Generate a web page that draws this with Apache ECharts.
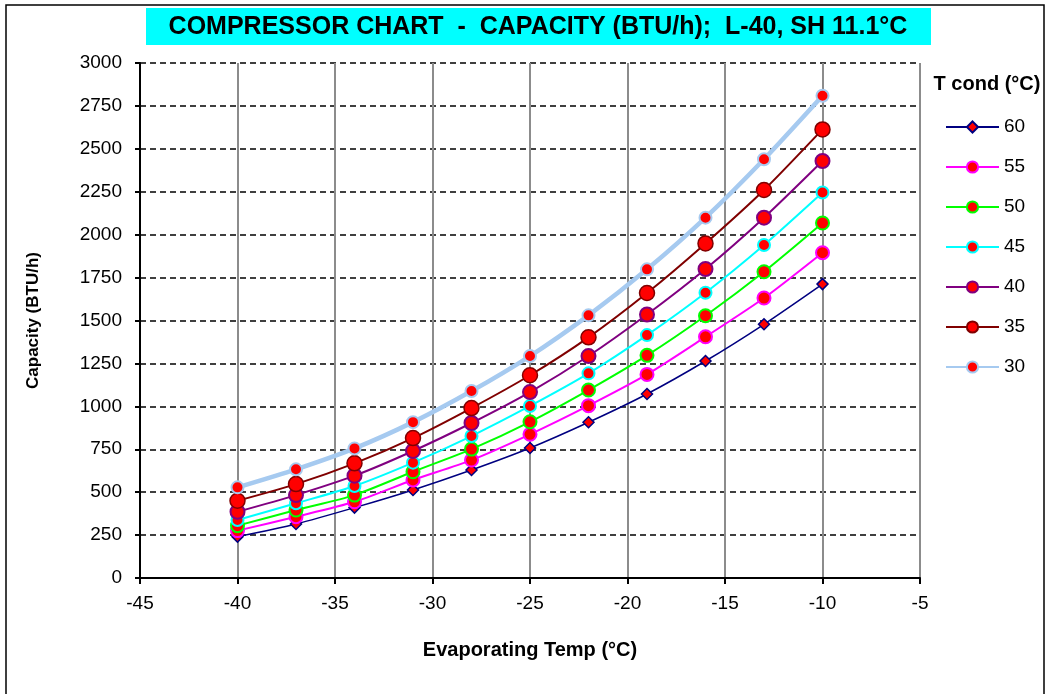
<!DOCTYPE html>
<html>
<head>
<meta charset="utf-8">
<script src="https://cdn.jsdelivr.net/npm/echarts@6/dist/echarts.min.js"></script>
<style>
  html, body { margin: 0; padding: 0; background: #fff; }
  #chart { width: 1049px; height: 694px; }
</style>
</head>
<body>
<div id="chart"></div>
<script>
// Evaporating temperatures (°C)
const evapTemps = [-40, -37, -34, -31, -28, -25, -22, -19, -16, -13, -10];

// Capacity (BTU/h) per condensing temperature
const cap60 = [241, 315, 410, 513, 629, 757, 907, 1072, 1264, 1478, 1712];
const cap55 = [276, 357, 444, 571, 687, 837, 1004, 1186, 1405, 1631, 1895];
const cap50 = [305, 396, 483, 619, 751, 910, 1095, 1297, 1528, 1784, 2068];
const cap45 = [338, 435, 536, 672, 827, 1002, 1192, 1415, 1662, 1940, 2246];
const cap40 = [386, 483, 596, 740, 903, 1083, 1293, 1535, 1800, 2099, 2429];
const cap35 = [450, 547, 668, 815, 990, 1181, 1402, 1660, 1949, 2260, 2613];
const cap30 = [528, 633, 755, 908, 1089, 1293, 1530, 1798, 2099, 2439, 2809];

const condNames = ['60', '55', '50', '45', '40', '35', '30'];
const titleText = 'COMPRESSOR CHART  -  CAPACITY (BTU/h);  L-40, SH 11.1°C';

const FONT = '"Liberation Sans", Arial, sans-serif';

// visual style per condensing-temperature curve
const styles = [
  { data: cap60, color: '#000080', width: 1.5, symbol: 'diamond', size: 11, bw: 1.5 },
  { data: cap55, color: '#FF00FF', width: 2, symbol: 'circle', size: 13, bw: 2 },
  { data: cap50, color: '#00FF00', width: 2, symbol: 'circle', size: 13, bw: 2 },
  { data: cap45, color: '#00FFFF', width: 2, symbol: 'circle', size: 12, bw: 2 },
  { data: cap40, color: '#800080', width: 2, symbol: 'circle', size: 14, bw: 2 },
  { data: cap35, color: '#800000', width: 2, symbol: 'circle', size: 15, bw: 1.5 },
  { data: cap30, color: '#A6CAF0', width: 4.5, symbol: 'circle', size: 12, bw: 2 }
];

const series = styles.map((s, i) => ({
  name: condNames[i],
  type: 'line',
  smooth: 0.25,
  data: evapTemps.map((t, k) => [t, s.data[k]]),
  symbol: s.symbol,
  symbolSize: s.size,
  lineStyle: { color: s.color, width: s.width },
  itemStyle: { color: '#FF0000', borderColor: s.color, borderWidth: s.bw },
  emphasis: { disabled: true },
  z: 2 + i
}));

const chart = echarts.init(document.getElementById('chart'));
chart.setOption({
  animation: false,
  backgroundColor: '#fff',
  textStyle: { fontFamily: FONT },
  grid: { left: 140, right: 129, top: 63, bottom: 116 },
  xAxis: {
    type: 'value',
    min: -45, max: -5, interval: 5,
    name: 'Evaporating Temp (°C)',
    nameLocation: 'middle',
    nameGap: 62,
    nameTextStyle: { fontFamily: FONT, fontSize: 20, fontWeight: 'bold', color: '#000' },
    axisLine: { onZero: false, lineStyle: { color: '#000', width: 2 } },
    axisTick: { show: true, length: 6, lineStyle: { color: '#000', width: 2 } },
    axisLabel: { fontFamily: FONT, fontSize: 19, color: '#000', margin: 16 },
    splitLine: { show: true, lineStyle: { color: '#8c8c8c', width: 2, type: 'solid' } }
  },
  yAxis: {
    type: 'value',
    min: 0, max: 3000, interval: 250,
    name: 'Capacity (BTU/h)',
    nameLocation: 'middle',
    nameGap: 98,
    nameTextStyle: { fontFamily: FONT, fontSize: 17, fontWeight: 'bold', color: '#000' },
    axisLine: { show: true, lineStyle: { color: '#000', width: 2 } },
    axisTick: { show: true, length: 5, lineStyle: { color: '#000', width: 2 } },
    axisLabel: {
      fontFamily: FONT, fontSize: 19, color: '#000', margin: 18,
      formatter: v => String(v)
    },
    splitLine: { show: true, lineStyle: { color: '#000', width: 1.5, type: [6, 4] } }
  },
  legend: {
    orient: 'vertical',
    left: 945,
    top: 117,
    padding: 0,
    itemWidth: 53,
    itemHeight: 14,
    itemGap: 20,
    data: condNames,
    textStyle: { fontFamily: FONT, fontSize: 19, lineHeight: 20, color: '#000' }
  },
  graphic: [
    {
      type: 'rect', z: -10, silent: true,
      shape: { x: 6, y: 5, width: 1038, height: 700 },
      style: { fill: '#fff', stroke: '#000', lineWidth: 1.5 }
    },
    {
      type: 'rect', silent: true,
      shape: { x: 146, y: 8, width: 785, height: 37 },
      style: { fill: '#00FFFF' }
    },
    {
      type: 'text', silent: true,
      x: 538, y: 27,
      style: {
        text: titleText, fill: '#000',
        font: 'bold 25px ' + FONT,
        align: 'center', verticalAlign: 'middle'
      }
    },
    {
      type: 'text', silent: true,
      x: 987, y: 84,
      style: {
        text: 'T cond (°C)', fill: '#000',
        font: 'bold 20px ' + FONT,
        align: 'center', verticalAlign: 'middle'
      }
    }
  ],
  series: series
});
</script>
</body>
</html>
